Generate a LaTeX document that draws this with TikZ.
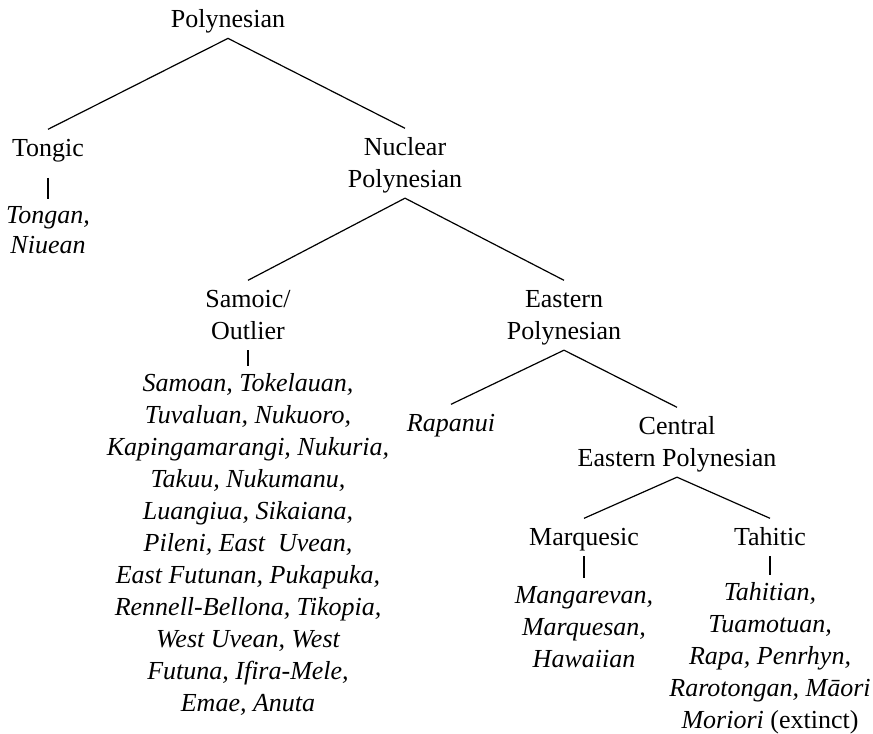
\documentclass[tikz,border=0pt]{standalone}
\usepackage{fontspec}
\setmainfont{Liberation Serif}
\newcommand\topst{\rule{0pt}{20pt}}
\newcommand\botst{\rule[-8pt]{0pt}{8pt}}
\begin{document}
\begin{tikzpicture}[x=0.75pt,y=-0.75pt,
  lbl/.style={align=center, anchor=north, font=\fontsize{19.5}{24}\selectfont, inner sep=0pt},
  lst/.style={lbl, font=\fontsize{19.5}{24}\selectfont\itshape},
  edge/.style={line width=0.9pt},
  vedge/.style={edge, shorten >=-1.5pt}]
\useasboundingbox (0,0) rectangle (873,733);
\node[lbl] (pn) at (228,0.5) {\topst Polynesian\botst};
\node[lbl] (tg) at (48,129.3) {\topst Tongic\botst};
\node[lst, font=\fontsize{19.5}{22.5}\selectfont\itshape] (tgl) at (48,196.5) {\topst Tongan,\\Niuean\botst};
\node[lbl] (nuc) at (405,128.3) {\topst Nuclear\\Polynesian\botst};
\node[lbl] (sam) at (248,280.3) {\topst Samoic/\\Outlier\botst};
\node[lst] (saml) at (248,364.3) {\topst Samoan, Tokelauan,\\Tuvaluan, Nukuoro,\\Kapingamarangi, Nukuria,\\Takuu, Nukumanu,\\Luangiua, Sikaiana,\\Pileni, East~ Uvean,\\East Futunan, Pukapuka,\\Rennell-Bellona, Tikopia,\\West Uvean, West\\Futuna, Ifira-Mele,\\Emae, Anuta\botst};
\node[lbl] (ep) at (564,280.3) {\topst Eastern\\Polynesian\botst};
\node[lst] (rap) at (451,404.3) {\topst Rapanui\botst};
\node[lbl] (cep) at (677,407.3) {\topst Central\\Eastern Polynesian\botst};
\node[lbl] (mq) at (584,518.3) {\topst Marquesic\botst};
\node[lbl] (th) at (770,518.3) {\topst Tahitic\botst};
\node[lst] (mql) at (584,576.3) {\topst Mangarevan,\\Marquesan,\\Hawaiian\botst};
\node[lst] (thl) at (770,573.3) {\topst Tahitian,\\Tuamotuan,\\Rapa, Penrhyn,\\Rarotongan, Māori\\Moriori \upshape(extinct)\botst};
\draw[edge] (tg.north) -- (pn.south) -- (nuc.north);
\draw[edge] (sam.north) -- (nuc.south) -- (ep.north);
\draw[edge] (rap.north) -- (ep.south) -- (cep.north);
\draw[edge] (mq.north) -- (cep.south) -- (th.north);
\draw[vedge, shorten <=8pt] (tg.south) -- (tgl.north);
\draw[vedge] (sam.south) -- (saml.north);
\draw[vedge] (mq.south) -- (mql.north);
\draw[vedge] (th.south) -- (thl.north);
\end{tikzpicture}
\end{document}
